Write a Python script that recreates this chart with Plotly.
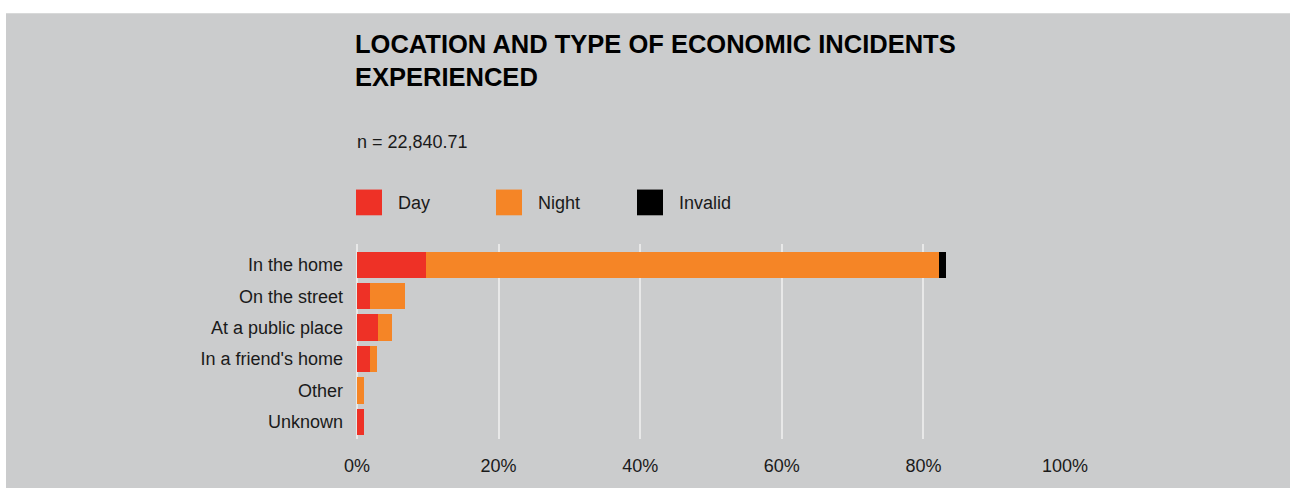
import plotly.graph_objects as go

categories = ["In the home", "On the street", "At a public place",
              "In a friend's home", "Other", "Unknown"]
day = [9.8, 1.8, 3.0, 1.8, 0.0, 1.0]
night = [72.4, 5.0, 2.0, 1.0, 1.0, 0.0]
invalid = [1.0, 0.0, 0.0, 0.0, 0.0, 0.0]
series_names = ["Day", "Night", "Invalid"]
x_ticks = [0, 20, 40, 60, 80, 100]
x_tick_labels = ["0%", "20%", "40%", "60%", "80%", "100%"]

colors = {"Day": "#ee3126", "Night": "#f58526", "Invalid": "#000000"}
BG = "#cbcccd"
FONT = "Liberation Sans, Arial, Helvetica, sans-serif"

W, H = 1290, 488
L, R, T, B = 357, 225, 244, 47
pw, ph = W - L - R, H - T - B


def px_x(p):
    return (p - L) / pw


def px_y(p):
    return (H - B - p) / ph


fig = go.Figure()
for name, vals in zip(series_names, [day, night, invalid]):
    fig.add_trace(go.Bar(
        y=categories, x=vals, name=name, orientation="h",
        marker=dict(color=colors[name], line=dict(width=0)),
        showlegend=False,
    ))

shapes = [dict(type="rect", xref="paper", yref="paper",
               x0=px_x(6), x1=px_x(1295), y0=px_y(11), y1=px_y(495),
               fillcolor=BG, line=dict(width=0), layer="below")]
annotations = []

legend_pos = [(356, 396), (496, 536), (637, 677)]
for name, (sx, tx) in zip(series_names, legend_pos):
    shapes.append(dict(type="rect", xref="paper", yref="paper",
                       x0=px_x(sx), x1=px_x(sx + 26), y0=px_y(215), y1=px_y(189),
                       fillcolor=colors[name], line=dict(width=0)))
    annotations.append(dict(text=name, xref="paper", yref="paper",
                            x=px_x(tx), y=px_y(203), xanchor="left", yanchor="middle",
                            showarrow=False, font=dict(size=18, color="#1a1a1a", family=FONT)))

annotations.append(dict(text="n = 22,840.71", xref="paper", yref="paper",
                        x=px_x(355), y=px_y(141), xanchor="left", yanchor="middle",
                        showarrow=False, font=dict(size=18, color="#1a1a1a", family=FONT)))

fig.update_layout(
    width=W, height=H,
    margin=dict(l=L, r=R, t=T, b=B, pad=0),
    paper_bgcolor="white",
    plot_bgcolor=BG,
    barmode="stack",
    bargap=0.16,
    title=dict(text="<b>LOCATION AND TYPE OF ECONOMIC INCIDENTS<br>EXPERIENCED</b>",
               xref="container", yref="container",
               x=355 / W, xanchor="left", y=1 - 53 / H, yanchor="middle",
               font=dict(size=25.5, color="#000000", family=FONT)),
    font=dict(family=FONT, size=18, color="#1a1a1a"),
    shapes=shapes,
    annotations=annotations,
    xaxis=dict(range=[0, 100], tickmode="array", tickvals=x_ticks, ticktext=x_tick_labels,
               showgrid=True, gridcolor="#e8e8e8", gridwidth=2,
               zeroline=True, zerolinecolor="#e8e8e8", zerolinewidth=2,
               showline=False, ticks="", ticklabelstandoff=14,
               tickfont=dict(size=18, color="#1a1a1a")),
    yaxis=dict(categoryorder="array", categoryarray=categories,
               range=[5.54, -0.66], showgrid=False, zeroline=False, showline=False,
               ticks="", ticklabelstandoff=13,
               tickfont=dict(size=18, color="#1a1a1a")),
)

fig.write_html("out.html")
